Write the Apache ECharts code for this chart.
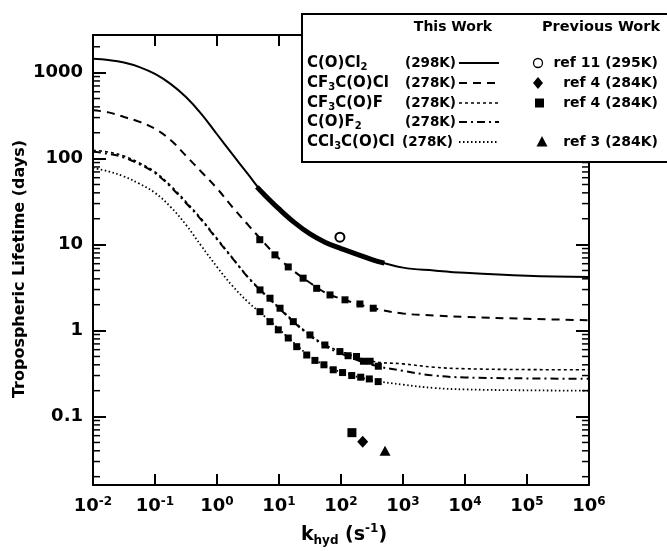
<!DOCTYPE html>
<html>
<head>
<meta charset="utf-8">
<script src="https://cdn.jsdelivr.net/npm/echarts@6/dist/echarts.min.js"></script>
<style>
html, body { margin: 0; padding: 0; background: #fff; }
#main { width: 667px; height: 551px; }
</style>
</head>
<body>
<div id="main"></div>
<script>
var kGrid = [0.01, 0.0178, 0.0316, 0.0562, 0.1, 0.178, 0.316, 0.562, 1, 1.78, 3.16, 5.62,
    10, 17.8, 31.6, 56.2, 100, 316, 1000, 3162, 10000, 100000, 1000000];
// tropospheric lifetimes (days) on that grid
var cocl2 = [1450, 1400, 1310, 1160, 965, 740, 520, 330, 192, 112, 66, 39,
    26, 18, 13.3, 10.6, 9.0, 6.7, 5.4, 5.0, 4.7, 4.35, 4.2];
var cf3cocl = [365, 345, 305, 268, 222, 165, 108, 70, 45, 27.2, 17, 10.7,
    6.9, 4.85, 3.6, 2.76, 2.35, 1.84, 1.58, 1.5, 1.44, 1.37, 1.32];
var cf3cof = [125, 119, 107, 89, 70, 48.5, 31.5, 19.8, 11.8, 7.0, 4.2, 2.75,
    1.85, 1.26, 0.89, 0.68, 0.57, 0.44, 0.41, 0.375, 0.36, 0.352, 0.35];
var cof2 = [120, 114, 103, 86, 68, 47, 30.5, 19.3, 11.5, 6.9, 4.15, 2.72,
    1.82, 1.23, 0.87, 0.66, 0.54, 0.40, 0.34, 0.30, 0.285, 0.278, 0.275];
var ccl3cocl = [78, 71, 62, 51, 40, 27.5, 17, 9.6, 5.5, 3.3, 2.15, 1.5,
    1.04, 0.71, 0.50, 0.39, 0.33, 0.265, 0.235, 0.215, 0.207, 0.202, 0.2];

// thick part of the C(O)Cl2 curve
var bandK = [4.4, 5.62, 10, 17.8, 31.6, 56.2, 100, 316, 500];
var bandT = [47, 39, 26, 18, 13.3, 10.6, 9.0, 6.7, 6.1];

// square points sitting on the curves
var sqCf3coclK = [4.9, 8.6, 14.1, 24.5, 40.5, 66.5, 116, 202, 331];
var sqCf3coclT = [11.4, 7.6, 5.5, 4.07, 3.1, 2.6, 2.28, 2.04, 1.82];
var sqCf3cofK = [4.94, 7.16, 10.4, 17, 31.6, 55, 96, 178, 295];
var sqCf3cofT = [2.97, 2.38, 1.82, 1.27, 0.89, 0.68, 0.57, 0.50, 0.44];
var sqCof2K = [130, 230, 400];
var sqCof2T = [0.51, 0.44, 0.385];
var sqCcl3K = [4.94, 7.16, 9.75, 14.1, 19.3, 28, 38, 53, 75, 106, 149, 208, 286, 398];
var sqCcl3T = [1.66, 1.27, 1.02, 0.82, 0.65, 0.52, 0.45, 0.40, 0.35, 0.325, 0.30, 0.287, 0.274, 0.255];

// previous work
var ref11 = [[96, 12.2]];
var ref4a = [[224, 0.051]];
var ref4b = [[150, 0.065]];
var ref3 = [[513, 0.040]];

// minor ticks of the lifetime axis
var minorDecades = [0.01, 0.1, 1, 10, 100, 1000];
var minorSteps = [2, 3, 4, 5, 6, 7, 8, 9];

// legend texts
var names = ['C(O)Cl{s|2}', 'CF{s|3}C(O)Cl', 'CF{s|3}C(O)F', 'C(O)F{s|2}', 'CCl{s|3}C(O)Cl'];
var temps = ['(298K)', '(278K)', '(278K)', '(278K)', '(278K)'];
var refs = ['ref 11 (295K)', 'ref 4 (284K)', 'ref 4 (284K)', '', 'ref 3 (284K)'];

var FONT = 'DejaVu Sans';
var yMin = 0.016, yMax = 2740;

var dashes = {
    solid: null,
    dashed: [8, 6],
    fine: [3, 3],
    dashdot: [8, 4, 2, 4],
    dotted: [1.5, 2.5]
};

function pairs(ks, ts) {
    return ks.map(function (k, i) { return [k, ts[i]]; });
}
function isDecade(v) {
    var e = Math.log10(v);
    return Math.abs(e - Math.round(e)) < 1e-6;
}

var minorVals = [];
minorDecades.forEach(function (d) {
    minorSteps.forEach(function (m) {
        var v = m * d;
        if (v > yMin && v < yMax) minorVals.push([1, v]);
    });
});

var chart = echarts.init(document.getElementById('main'));

function curve(name, ts, dash, width) {
    return {
        name: name,
        type: 'line',
        data: pairs(kGrid, ts),
        symbol: 'none',
        smooth: 0.4,
        lineStyle: { color: '#000', width: width, type: dash || 'solid' },
        z: 3
    };
}
function squares(ks, ts) {
    return {
        type: 'scatter',
        data: pairs(ks, ts),
        symbol: 'rect',
        symbolSize: 7,
        itemStyle: { color: '#000', opacity: 1 },
        z: 4
    };
}

var xTickLabel = {
    color: '#000',
    margin: 11,
    formatter: function (v) {
        return '{b|10}{s|' + Math.round(Math.log10(v)) + '}';
    },
    rich: {
        b: { fontFamily: FONT, fontWeight: 'bold', fontSize: 18, lineHeight: 20, color: '#000' },
        s: { fontFamily: FONT, fontWeight: 'bold', fontSize: 12, lineHeight: 12, verticalAlign: 'top', color: '#000' }
    }
};

var axisLineStyle = { lineStyle: { color: '#000', width: 2 } };

// legend graphic
var legendEls = [];
var rowY = [63, 83, 103, 122, 142];
legendEls.push({
    type: 'rect', z: 100,
    shape: { x: 302, y: 14, width: 380, height: 148 },
    style: { fill: '#fff', stroke: '#000', lineWidth: 2 }
});
legendEls.push({
    type: 'text', z: 101, x: 453, y: 27,
    style: { text: 'This Work', font: 'bold 14px "' + FONT + '"', fill: '#000', align: 'center', verticalAlign: 'middle' }
});
legendEls.push({
    type: 'text', z: 101, x: 601, y: 27,
    style: { text: 'Previous Work', font: 'bold 14.5px "' + FONT + '"', fill: '#000', align: 'center', verticalAlign: 'middle' }
});
var dashList = [dashes.solid, dashes.dashed, dashes.fine, dashes.dashdot, dashes.dotted];
var widthList = [2, 2, 1.6, 2, 1.8];
rowY.forEach(function (y, i) {
    legendEls.push({
        type: 'text', z: 101, x: 307, y: y,
        style: {
            text: names[i], fill: '#000',
            fontFamily: FONT, fontWeight: 'bold', fontSize: 15, lineHeight: 18,
            align: 'left', verticalAlign: 'middle',
            rich: { s: { fontFamily: FONT, fontWeight: 'bold', fontSize: 10, lineHeight: 10, verticalAlign: 'bottom' } }
        }
    });
    legendEls.push({
        type: 'text', z: 101, x: i === 4 ? 402 : 405, y: y,
        style: { text: temps[i], font: 'bold 13.5px "' + FONT + '"', fill: '#000', align: 'left', verticalAlign: 'middle' }
    });
    legendEls.push({
        type: 'line', z: 101,
        shape: { x1: 459, y1: y, x2: 499, y2: y },
        style: { stroke: '#000', lineWidth: widthList[i], lineDash: dashList[i] }
    });
    if (refs[i]) {
        legendEls.push({
            type: 'text', z: 101, x: 658, y: y,
            style: { text: refs[i], font: 'bold 14px "' + FONT + '"', fill: '#000', align: 'right', verticalAlign: 'middle' }
        });
    }
});
// legend keys for previous work
var mx = 539;
legendEls.push({ type: 'circle', z: 101, shape: { cx: mx - 1, cy: rowY[0], r: 4.5 }, style: { fill: '#fff', stroke: '#000', lineWidth: 1.3 } });
legendEls.push({ type: 'polygon', z: 101, shape: { points: [[mx - 1, rowY[1] - 6], [mx + 4, rowY[1]], [mx - 1, rowY[1] + 6], [mx - 6, rowY[1]]] }, style: { fill: '#000' } });
legendEls.push({ type: 'rect', z: 101, shape: { x: mx - 4, y: rowY[2] - 4.5, width: 9, height: 9 }, style: { fill: '#000' } });
legendEls.push({ type: 'polygon', z: 101, shape: { points: [[mx + 3, rowY[4] - 6], [mx + 8.5, rowY[4] + 4.5], [mx - 2.5, rowY[4] + 4.5]] }, style: { fill: '#000' } });

// axis titles
legendEls.push({
    type: 'text', z: 101, x: 20, y: 269, rotation: Math.PI / 2,
    style: { text: 'Tropospheric Lifetime (days)', font: 'bold 16px "' + FONT + '"', fill: '#000', align: 'center', verticalAlign: 'middle' }
});
legendEls.push({
    type: 'text', z: 101, x: 344, y: 535,
    style: {
        text: '{m|k}{sub|hyd}{m| (s}{sup|-1}{m|)}', align: 'center', verticalAlign: 'middle',
        rich: {
            m: { fontFamily: FONT, fontWeight: 'bold', fontSize: 19, lineHeight: 24, fill: '#000' },
            sub: { fontFamily: FONT, fontWeight: 'bold', fontSize: 12, lineHeight: 14, verticalAlign: 'bottom', fill: '#000' },
            sup: { fontFamily: FONT, fontWeight: 'bold', fontSize: 12, lineHeight: 14, verticalAlign: 'top', fill: '#000' }
        }
    }
});

var option = {
    animation: false,
    backgroundColor: '#fff',
    grid: { left: 93, right: 78, top: 35, bottom: 66, containLabel: false },
    xAxis: [{
        type: 'log', logBase: 10, min: 0.01, max: 1000000, position: 'bottom',
        axisLine: axisLineStyle,
        axisTick: { inside: true, length: 11, lineStyle: { color: '#000', width: 2 } },
        axisLabel: xTickLabel,
        splitLine: { show: false }
    }, {
        type: 'log', logBase: 10, min: 0.01, max: 1000000, position: 'top',
        axisLine: axisLineStyle,
        axisTick: { inside: true, length: 11, lineStyle: { color: '#000', width: 2 } },
        axisLabel: { show: false },
        splitLine: { show: false }
    }],
    yAxis: [{
        type: 'log', logBase: 10, min: yMin, max: yMax, position: 'left',
        axisLine: axisLineStyle,
        axisTick: { inside: true, length: 13, lineStyle: { color: '#000', width: 2 } },
        axisLabel: {
            color: '#000', margin: 10, fontFamily: FONT, fontWeight: 'bold', fontSize: 18,
            showMinLabel: false, showMaxLabel: false,
            formatter: function (v) { return isDecade(v) ? String(Math.round(v * 10) / 10) : ''; }
        },
        splitLine: { show: false }
    }, {
        type: 'log', logBase: 10, min: yMin, max: yMax, position: 'right',
        axisLine: axisLineStyle,
        axisTick: { inside: true, length: 13, lineStyle: { color: '#000', width: 2 } },
        axisLabel: { show: false },
        splitLine: { show: false }
    }],
    graphic: { elements: legendEls },
    series: [
        curve('C(O)Cl2', cocl2, dashes.solid, 2),
        {
            type: 'line', data: pairs(bandK, bandT), symbol: 'none', smooth: 0.4,
            lineStyle: { color: '#000', width: 5 }, z: 3
        },
        curve('CF3C(O)Cl', cf3cocl, dashes.dashed, 2),
        curve('CF3C(O)F', cf3cof, dashes.fine, 1.6),
        curve('C(O)F2', cof2, dashes.dashdot, 2),
        curve('CCl3C(O)Cl', ccl3cocl, dashes.dotted, 1.8),
        squares(sqCf3coclK, sqCf3coclT),
        squares(sqCf3cofK, sqCf3cofT),
        squares(sqCof2K, sqCof2T),
        squares(sqCcl3K, sqCcl3T),
        { type: 'scatter', data: ref11, symbol: 'emptyCircle', symbolSize: 9, itemStyle: { color: '#000', borderColor: '#000', borderWidth: 1.2, opacity: 1 }, z: 5 },
        { type: 'scatter', data: ref4a, symbol: 'diamond', symbolSize: [11, 12], itemStyle: { color: '#000', opacity: 1 }, z: 5 },
        { type: 'scatter', data: ref4b, symbol: 'rect', symbolSize: 9, itemStyle: { color: '#000', opacity: 1 }, z: 5 },
        { type: 'scatter', data: ref3, symbol: 'triangle', symbolSize: [11, 10], itemStyle: { color: '#000', opacity: 1 }, z: 5 },
        {
            type: 'custom', data: minorVals, z: 2, silent: true,
            renderItem: function (params, api) {
                var v = api.value(1);
                var l = api.coord([0.01, v]);
                var r = api.coord([1000000, v]);
                return {
                    type: 'group',
                    children: [
                        { type: 'line', shape: { x1: l[0], y1: l[1], x2: l[0] + 7, y2: l[1] }, style: { stroke: '#000', lineWidth: 1.5 } },
                        { type: 'line', shape: { x1: r[0], y1: r[1], x2: r[0] - 7, y2: r[1] }, style: { stroke: '#000', lineWidth: 1.5 } }
                    ]
                };
            }
        }
    ]
};
chart.setOption(option);
</script>
</body>
</html>
